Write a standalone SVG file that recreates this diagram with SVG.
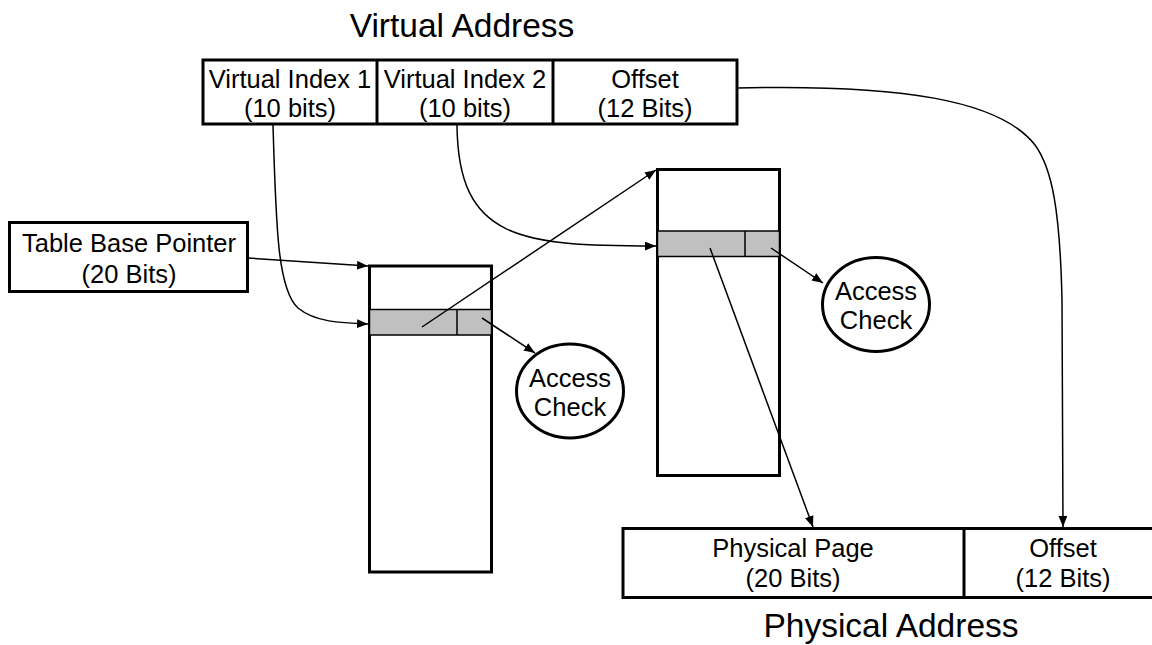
<svg xmlns="http://www.w3.org/2000/svg" width="1152" height="645" viewBox="0 0 1152 645">
<defs>
<style>
.box{fill:#fff;stroke:#000;stroke-width:3}
.row{fill:#c0c0c0;stroke:#000;stroke-width:1.5}
.div{stroke:#000;stroke-width:1.5}
.t{font-family:"Liberation Sans",Arial,sans-serif;font-size:25.5px;fill:#000;text-anchor:middle}
.title{font-family:"Liberation Sans",Arial,sans-serif;font-size:33.5px;fill:#000;text-anchor:middle}
.c{fill:none;stroke:#000;stroke-width:1.5}
</style>
<marker id="ah" viewBox="0 0 10 8" refX="10" refY="4" markerWidth="11" markerHeight="9" markerUnits="userSpaceOnUse" orient="auto">
<path d="M0,0 L10,4 L0,8 z" fill="#000"/>
</marker>
</defs>
<rect width="1152" height="645" fill="#fff"/>

<g id="virtual-address">
<text class="title" x="462" y="37">Virtual Address</text>
<rect class="box" x="203" y="60" width="534" height="64"/>
<line x1="377" y1="60" x2="377" y2="124" stroke="#000" stroke-width="3"/>
<line x1="553" y1="60" x2="553" y2="124" stroke="#000" stroke-width="3"/>
<text class="t" x="290" y="88">Virtual Index 1</text>
<text class="t" x="290" y="117">(10 bits)</text>
<text class="t" x="465" y="88">Virtual Index 2</text>
<text class="t" x="465" y="117">(10 bits)</text>
<text class="t" x="645" y="88">Offset</text>
<text class="t" x="645" y="117">(12 Bits)</text>
</g>

<g id="table-base-pointer">
<rect class="box" x="9.5" y="222.5" width="238" height="69"/>
<text class="t" x="129" y="252">Table Base Pointer</text>
<text class="t" x="129" y="283">(20 Bits)</text>
</g>

<g id="page-directory">
<rect class="box" x="369.5" y="266" width="122" height="306"/>
<rect class="row" x="369.5" y="309.5" width="122" height="25.5"/>
<line class="div" x1="457" y1="309.5" x2="457" y2="335"/>
</g>

<g id="page-table">
<rect class="box" x="657.5" y="169.5" width="122" height="306"/>
<rect class="row" x="657.5" y="231" width="122" height="25.5"/>
<line class="div" x1="745" y1="231" x2="745" y2="256.5"/>
</g>

<g id="access-check-1">
<ellipse cx="570" cy="391" rx="53.5" ry="47" fill="#fff" stroke="#000" stroke-width="3"/>
<text class="t" x="570" y="387">Access</text>
<text class="t" x="570" y="416">Check</text>
</g>

<g id="access-check-2">
<ellipse cx="876" cy="304.5" rx="53.5" ry="47" fill="#fff" stroke="#000" stroke-width="3"/>
<text class="t" x="876" y="300">Access</text>
<text class="t" x="876" y="329">Check</text>
</g>

<g id="physical-address">
<rect class="box" x="623" y="528.5" width="545" height="69"/>
<line x1="964" y1="528.5" x2="964" y2="597.5" stroke="#000" stroke-width="3"/>
<text class="t" x="793" y="557">Physical Page</text>
<text class="t" x="793" y="587">(20 Bits)</text>
<text class="t" x="1063" y="557">Offset</text>
<text class="t" x="1063" y="587">(12 Bits)</text>
<text class="title" x="891" y="637">Physical Address</text>
</g>

<g id="connectors">
<path class="c" d="M273,125 C276,230 278,290 298,308 C315,322 340,323 368,324" marker-end="url(#ah)"/>
<path class="c" d="M248,258 L368,266" marker-end="url(#ah)"/>
<path class="c" d="M457,125 C458,240 520,246 656,246" marker-end="url(#ah)"/>
<path class="c" d="M422,327 L656,170" marker-end="url(#ah)"/>
<path class="c" d="M482,318 L535,353" marker-end="url(#ah)"/>
<path class="c" d="M771,248 L823,283" marker-end="url(#ah)"/>
<path class="c" d="M710,248 L813,527" marker-end="url(#ah)"/>
<path class="c" d="M737,88 C900,84 1000,100 1035,145 C1052,168 1060,210 1062,300 L1063,527" marker-end="url(#ah)"/>
</g>
</svg>
